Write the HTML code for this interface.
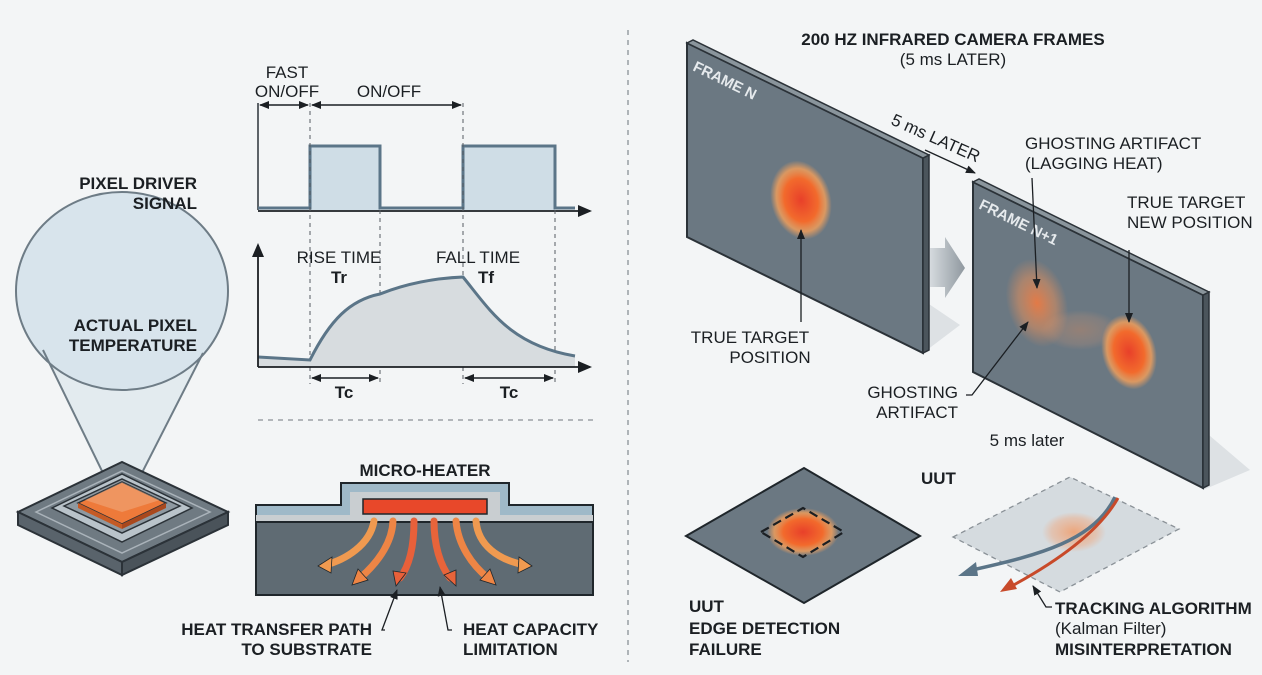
<!DOCTYPE html>
<html><head><meta charset="utf-8"><style>
html,body{margin:0;padding:0;background:#f3f5f6;}
svg{display:block;}
text{font-family:"Liberation Sans",sans-serif;fill:#1b1f23;}
.b{font-weight:bold;font-size:17px;}
.n{font-size:17px;}
</style></head><body>
<svg width="1262" height="675" viewBox="0 0 1262 675" xmlns="http://www.w3.org/2000/svg">
<defs>
<radialGradient id="hot" cx="50%" cy="50%" r="50%">
<stop offset="0" stop-color="#e8402a"/><stop offset="0.55" stop-color="#f26a2c"/><stop offset="0.8" stop-color="#f5a05a" stop-opacity="0.8"/><stop offset="1" stop-color="#f5a05a" stop-opacity="0"/>
</radialGradient>
<radialGradient id="ghost" cx="50%" cy="50%" r="50%">
<stop offset="0" stop-color="#f07a40" stop-opacity="0.9"/><stop offset="0.6" stop-color="#e8905a" stop-opacity="0.5"/><stop offset="1" stop-color="#e8905a" stop-opacity="0"/>
</radialGradient>
<radialGradient id="ghost2" cx="50%" cy="50%" r="50%">
<stop offset="0" stop-color="#f4945a" stop-opacity="0.75"/><stop offset="0.7" stop-color="#f4a070" stop-opacity="0.4"/><stop offset="1" stop-color="#f4a070" stop-opacity="0"/>
</radialGradient>
<linearGradient id="chev" x1="0" x2="1"><stop offset="0" stop-color="#d5dade"/><stop offset="1" stop-color="#8f989f"/></linearGradient>
<marker id="ah" markerWidth="10" markerHeight="10" refX="9" refY="5" orient="auto-start-reverse" markerUnits="userSpaceOnUse"><path d="M0,1 L10,5 L0,9 z" fill="#1b1f23"/></marker>
<marker id="ah2" markerWidth="14" markerHeight="12" refX="12" refY="6" orient="auto" markerUnits="userSpaceOnUse"><path d="M0,0 L14,6 L0,12 z" fill="#1b1f23"/></marker>
</defs>

<!-- dividers -->
<line x1="628" y1="30" x2="628" y2="662" stroke="#8a9197" stroke-width="1.3" stroke-dasharray="5,5"/>
<line x1="258" y1="420" x2="595" y2="420" stroke="#8a9197" stroke-width="1.3" stroke-dasharray="5,5"/>

<!-- LEFT magnifier -->
<polygon points="43,350 122,512 203,353" fill="#dfe8ee" opacity="0.8"/>
<ellipse cx="122" cy="291" rx="106" ry="99" fill="#d8e4ec" stroke="#6e7c86" stroke-width="2"/>
<line x1="43" y1="350" x2="122" y2="512" stroke="#6e7c86" stroke-width="2"/>
<line x1="203" y1="353" x2="122" y2="512" stroke="#6e7c86" stroke-width="2"/>
<rect x="60" y="168" width="145" height="45" fill="#f3f5f6" opacity="0"/>
<text class="b" x="197" y="189" text-anchor="end">PIXEL DRIVER</text>
<text class="b" x="197" y="209" text-anchor="end">SIGNAL</text>
<text class="b" x="197" y="331" text-anchor="end">ACTUAL PIXEL</text>
<text class="b" x="197" y="351" text-anchor="end">TEMPERATURE</text>

<!-- chip -->
<polygon points="18,512 122,462 228,512 122,562" fill="#6f7a82" stroke="#2b3238" stroke-width="2"/>
<polygon points="18,512 122,562 122,575 18,525" fill="#59636b" stroke="#2b3238" stroke-width="2"/>
<polygon points="228,512 122,562 122,575 228,525" fill="#4a535a" stroke="#2b3238" stroke-width="2"/>
<polygon points="36,512 122,471 210,512 122,553" fill="none" stroke="#aab3ba" stroke-width="1.5"/>
<polygon points="52,508 122,474 192,508 122,542" fill="#b9c3ca" stroke="#2b3238" stroke-width="1.5"/>
<polygon points="64,506 122,479 180,506 122,533" fill="#8e99a1" stroke="#2b3238" stroke-width="1.5"/>
<polygon points="78,503 122,482 166,503 122,524" fill="#ee7a3a" stroke="#2b3238" stroke-width="1.5"/>
<polygon points="78,503 122,524 122,529 78,508" fill="#c55a25"/>
<polygon points="166,503 122,524 122,529 166,508" fill="#a9481d"/>
<polygon points="85,500 122,512 160,500 122,482" fill="#f0c8a8" opacity="0.35"/>

<!-- top waveform -->
<line x1="258" y1="103" x2="258" y2="210" stroke="#2b3238" stroke-width="1.5"/>
<polygon points="310,146 380,146 380,210 310,210" fill="#cfdde6"/>
<polygon points="463,146 555,146 555,210 463,210" fill="#cfdde6"/>
<polyline points="258,208 310,208 310,146 380,146 380,208 463,208 463,146 555,146 555,208 575,208" fill="none" stroke="#5b7588" stroke-width="3"/>
<line x1="258" y1="211" x2="590" y2="211" stroke="#1b1f23" stroke-width="1.8" marker-end="url(#ah2)"/>
<text class="n" x="287" y="78" text-anchor="middle">FAST</text>
<text class="n" x="287" y="97" text-anchor="middle">ON/OFF</text>
<text class="n" x="389" y="97" text-anchor="middle">ON/OFF</text>
<line x1="260" y1="105" x2="308" y2="105" stroke="#1b1f23" stroke-width="1.5" marker-start="url(#ah)" marker-end="url(#ah)"/>
<line x1="312" y1="105" x2="461" y2="105" stroke="#1b1f23" stroke-width="1.5" marker-start="url(#ah)" marker-end="url(#ah)"/>
<g stroke="#555c62" stroke-width="1" stroke-dasharray="4,4">
<line x1="310" y1="103" x2="310" y2="384"/><line x1="380" y1="210" x2="380" y2="384"/>
<line x1="463" y1="103" x2="463" y2="384"/><line x1="555" y1="210" x2="555" y2="384"/>
</g>

<!-- bottom waveform -->
<path d="M258,357 L310,360 C330,320 350,300 380,294 C410,282 440,278 463,277 C490,310 510,345 575,356 L575,367 L258,367 Z" fill="#d7dcdf"/>
<path d="M258,357 L310,360 C330,320 350,300 380,294 C410,282 440,278 463,277 C490,310 510,345 575,356" fill="none" stroke="#5b7588" stroke-width="3"/>
<line x1="258" y1="367" x2="258" y2="245" stroke="#1b1f23" stroke-width="1.8" marker-end="url(#ah2)"/>
<line x1="258" y1="367" x2="590" y2="367" stroke="#1b1f23" stroke-width="1.8" marker-end="url(#ah2)"/>
<text class="n" x="339" y="263" text-anchor="middle">RISE TIME</text>
<text class="b" x="339" y="283" text-anchor="middle">Tr</text>
<text class="n" x="478" y="263" text-anchor="middle">FALL TIME</text>
<text class="b" x="486" y="283" text-anchor="middle">Tf</text>
<line x1="312" y1="378" x2="378" y2="378" stroke="#1b1f23" stroke-width="1.5" marker-start="url(#ah)" marker-end="url(#ah)"/>
<line x1="465" y1="378" x2="553" y2="378" stroke="#1b1f23" stroke-width="1.5" marker-start="url(#ah)" marker-end="url(#ah)"/>
<text class="b" x="344" y="398" text-anchor="middle">Tc</text>
<text class="b" x="509" y="398" text-anchor="middle">Tc</text>

<!-- micro heater -->
<text class="b" x="425" y="476" text-anchor="middle">MICRO-HEATER</text>
<rect x="256" y="522" width="337" height="73" fill="#5f6b73" stroke="#1f262b" stroke-width="2"/>
<path d="M256,505 L341,505 L341,483 L509,483 L509,505 L593,505 L593,522 L256,522 Z" fill="#9fb9c8" stroke="#1f262b" stroke-width="2"/>
<path d="M256,515 L350,515 L350,492 L500,492 L500,515 L593,515 L593,522 L256,522 Z" fill="#c9ced1"/>
<line x1="256" y1="522" x2="593" y2="522" stroke="#1f262b" stroke-width="2"/>
<rect x="363" y="499" width="124" height="15" fill="#e8482a" stroke="#1f262b" stroke-width="1.5"/>
<g fill="none" stroke-linecap="round" stroke-width="7">
<path d="M374,521 C370,545 345,560 325,565" stroke="#f09a50"/>
<path d="M393,521 C392,545 375,565 360,578" stroke="#ee8545"/>
<path d="M414,521 C414,545 410,565 400,578" stroke="#e8603a"/>
<path d="M434,521 C434,545 440,565 450,578" stroke="#e8643a"/>
<path d="M456,521 C458,545 472,565 488,578" stroke="#ee8545"/>
<path d="M476,521 C478,545 498,560 525,565" stroke="#f09a50"/>
</g>
<g stroke="#1f262b" stroke-width="0.8">
<polygon points="318,566 332,557 331,573" fill="#f09a50"/>
<polygon points="352,585 358,569 368,580" fill="#ee8545"/>
<polygon points="396,586 393,571 406,573" fill="#e8603a"/>
<polygon points="456,586 444,575 456,570" fill="#e8643a"/>
<polygon points="496,585 480,580 490,569" fill="#ee8545"/>
<polygon points="532,566 518,573 519,557" fill="#f09a50"/>
</g>
<polyline points="385,630 382,630 397,590" fill="none" stroke="#1b1f23" stroke-width="1.3" marker-end="url(#ah)"/>
<polyline points="452,630 448,630 440,587" fill="none" stroke="#1b1f23" stroke-width="1.3" marker-end="url(#ah)"/>
<text class="b" x="372" y="635" text-anchor="end">HEAT TRANSFER PATH</text>
<text class="b" x="372" y="655" text-anchor="end">TO SUBSTRATE</text>
<text class="b" x="463" y="635">HEAT CAPACITY</text>
<text class="b" x="463" y="655">LIMITATION</text>

<!-- RIGHT -->
<text class="b" x="953" y="45" text-anchor="middle">200 HZ INFRARED CAMERA FRAMES</text>
<text class="n" x="953" y="65" text-anchor="middle">(5 ms LATER)</text>

<!-- shadows -->
<polygon points="923,300 960,325 923,353" fill="#dde1e4"/>
<polygon points="1203,430 1250,470 1203,490" fill="#dde1e4"/>

<!-- Frame N -->
<polygon points="687,43 923,158 923,353 687,237" fill="#6b7882" stroke="#2b3238" stroke-width="2"/>
<polygon points="923,158 929,155 929,350 923,353" fill="#4b555c" stroke="#2b3238" stroke-width="1.5"/>
<polygon points="687,43 693,40 929,155 923,158" fill="#8a959c" stroke="#2b3238" stroke-width="1.5"/>
<text x="692" y="70" font-size="15" font-weight="bold" fill="#e6eaed" style="fill:#e6eaed" transform="rotate(26 692 70)">FRAME N</text>
<ellipse cx="801" cy="200" rx="30" ry="40" fill="url(#hot)" transform="rotate(-15 801 200)"/>
<line x1="801" y1="322" x2="801" y2="230" stroke="#1b1f23" stroke-width="1.3" marker-end="url(#ah)"/>
<text class="n" x="750" y="343" text-anchor="middle">TRUE TARGET</text>
<text class="n" x="770" y="363" text-anchor="middle">POSITION</text>

<!-- 5ms later arrow -->
<text class="n" x="890" y="124" transform="rotate(24 890 124)">5 ms LATER</text>
<line x1="925" y1="150" x2="975" y2="173" stroke="#1b1f23" stroke-width="1.3" marker-end="url(#ah)"/>

<!-- chevron -->
<polygon points="930,248 945,248 945,237 965,268 945,298 945,287 930,287" fill="url(#chev)"/>

<!-- Frame N+1 -->
<polygon points="973,182 1203,295 1203,488 973,372" fill="#6b7882" stroke="#2b3238" stroke-width="2"/>
<polygon points="1203,295 1209,292 1209,485 1203,488" fill="#4b555c" stroke="#2b3238" stroke-width="1.5"/>
<polygon points="973,182 979,179 1209,292 1203,295" fill="#8a959c" stroke="#2b3238" stroke-width="1.5"/>
<text x="978" y="208" font-size="15" font-weight="bold" style="fill:#e6eaed" transform="rotate(26 978 208)">FRAME N+1</text>
<ellipse cx="1037" cy="303" rx="30" ry="45" fill="url(#ghost)" transform="rotate(-15 1037 303)"/>
<ellipse cx="1080" cy="330" rx="40" ry="20" fill="url(#ghost2)" opacity="0.4"/>
<ellipse cx="1129" cy="352" rx="27" ry="38" fill="url(#hot)" transform="rotate(-15 1129 352)"/>
<line x1="1032" y1="178" x2="1037" y2="288" stroke="#1b1f23" stroke-width="1.3" marker-end="url(#ah)"/>
<line x1="1129" y1="250" x2="1129" y2="322" stroke="#1b1f23" stroke-width="1.3" marker-end="url(#ah)"/>
<polyline points="966,395 972,395 1028,322" fill="none" stroke="#1b1f23" stroke-width="1.3" marker-end="url(#ah)"/>
<text class="n" x="1025" y="149">GHOSTING ARTIFACT</text>
<text class="n" x="1025" y="169">(LAGGING HEAT)</text>
<text class="n" x="1127" y="208">TRUE TARGET</text>
<text class="n" x="1127" y="228">NEW POSITION</text>
<text class="n" x="958" y="398" text-anchor="end">GHOSTING</text>
<text class="n" x="958" y="418" text-anchor="end">ARTIFACT</text>
<text class="n" x="1027" y="446" text-anchor="middle">5 ms later</text>

<!-- UUT diamond -->
<polygon points="686,536 804,468 920,536 804,603" fill="#6b7882" stroke="#1f262b" stroke-width="2"/>
<ellipse cx="803" cy="532" rx="36" ry="24" fill="url(#hot)"/>
<polygon points="761,532 803,508 844,532 803,557" fill="none" stroke="#1b1f23" stroke-width="2.2" stroke-dasharray="9,5"/>
<text class="b" x="689" y="612">UUT</text>
<text class="b" x="689" y="634">EDGE DETECTION</text>
<text class="b" x="689" y="655">FAILURE</text>
<text class="b" x="921" y="484">UUT</text>

<!-- plane -->
<polygon points="953,537 1070,477 1179,529 1060,592" fill="#d5dbdf" stroke="#8a9197" stroke-width="1.3" stroke-dasharray="5,4"/>
<ellipse cx="1074" cy="532" rx="32" ry="20" fill="url(#ghost2)"/>
<path d="M1115,497 C1095,540 1040,555 972,570" fill="none" stroke="#5b7588" stroke-width="3.5"/>
<polygon points="958,576 976,562 978,576" fill="#5b7588"/>
<path d="M1118,498 C1100,530 1060,560 1010,587" fill="none" stroke="#c84a2a" stroke-width="3"/>
<polygon points="1000,592 1011,578 1017,589" fill="#c84a2a"/>
<polyline points="1052,607 1046,607 1033,586" fill="none" stroke="#1b1f23" stroke-width="1.3" marker-end="url(#ah)"/>
<text class="b" x="1055" y="614">TRACKING ALGORITHM</text>
<text class="n" x="1055" y="634">(Kalman Filter)</text>
<text class="b" x="1055" y="655">MISINTERPRETATION</text>
</svg>
</body></html>
